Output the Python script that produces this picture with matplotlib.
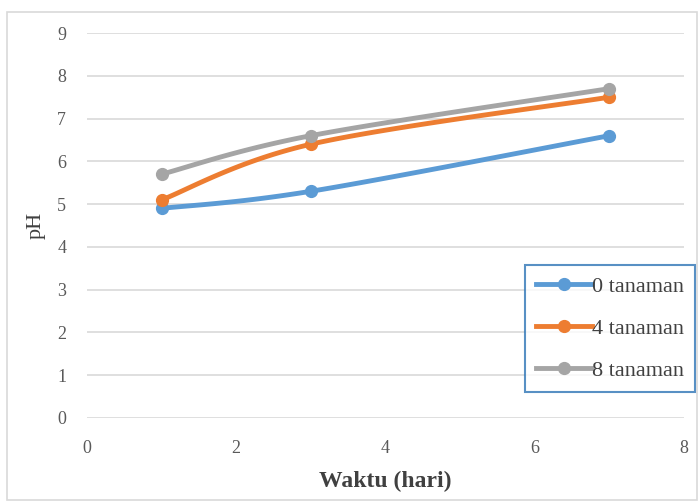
import numpy as np
import matplotlib
matplotlib.use("Agg")
import matplotlib.pyplot as plt
from matplotlib.patches import Rectangle

days = [1, 3, 7]
series_names = ["0 tanaman", "4 tanaman", "8 tanaman"]
ph_0 = [4.9, 5.3, 6.6]
ph_4 = [5.1, 6.4, 7.5]
ph_8 = [5.7, 6.6, 7.7]
colors = ["#5b9bd5", "#ed7d31", "#a5a5a5"]
x_ticks = [0, 2, 4, 6, 8]
y_ticks = [0, 1, 2, 3, 4, 5, 6, 7, 8, 9]

def smooth(x, y, n=40):
    x = np.asarray(x, float); y = np.asarray(y, float)
    P = np.column_stack([x, y])
    P = np.vstack([P[0], P, P[-1]])
    out = []
    for i in range(1, len(P) - 2):
        p0, p1, p2, p3 = P[i-1], P[i], P[i+1], P[i+2]
        c1 = p1 + (p2 - p0) / 6.0
        c2 = p2 - (p3 - p1) / 6.0
        t = np.linspace(0, 1, n)[:, None]
        b = (1-t)**3*p1 + 3*(1-t)**2*t*c1 + 3*(1-t)*t**2*c2 + t**3*p2
        out.append(b if i == 1 else b[1:])
    B = np.vstack(out)
    return B[:, 0], B[:, 1]

plt.rcParams['font.family'] = ['Liberation Serif', 'DejaVu Serif']
fig = plt.figure(figsize=(6.98, 5.04), dpi=100)
fig.patches.append(Rectangle((7/698, 4/504), 690/698, 488/504, transform=fig.transFigure,
                             fill=False, edgecolor="#d9d9d9", linewidth=1.2))
ax = fig.add_axes([87/698, 1-418/504, (684-87)/698, (418-33)/504])

for name, vals, c in zip(series_names, [ph_0, ph_4, ph_8], colors):
    sx, sy = smooth(days, vals)
    ax.plot(sx, sy, color=c, lw=3.5, solid_capstyle="round", zorder=3)
    ax.plot(days, vals, 'o', color=c, ms=8.5, zorder=4)
    ax.plot([], [], color=c, lw=3.5, marker='o', ms=8.5, label=name)

ax.set_xlim(0, 8)
ax.set_ylim(0, 9)
ax.set_xticks(x_ticks)
ax.set_yticks(y_ticks)
ax.grid(axis='y', color="#d9d9d9", lw=1.2)
ax.set_axisbelow(True)
for s in ax.spines.values():
    s.set_visible(False)
ax.tick_params(length=0, labelsize=13, labelcolor="#595959")
ax.tick_params(axis='x', pad=16)
ax.tick_params(axis='y', pad=15)
ax.set_xlabel("Waktu (hari)", fontsize=17, fontweight='bold', color="#404040", labelpad=10)
ax.set_ylabel("pH", fontsize=16, color="#404040", labelpad=8)

leg = ax.legend(loc='lower right', bbox_to_anchor=(1.018, 0.067), fontsize=16, frameon=True,
                fancybox=False, edgecolor="#2e75b6", handlelength=2.5, handletextpad=0.0,
                labelspacing=0.97, borderpad=0.5, borderaxespad=0, labelcolor="#404040")
leg.get_frame().set_linewidth(1.5)

fig.savefig("out.png", dpi=100)
